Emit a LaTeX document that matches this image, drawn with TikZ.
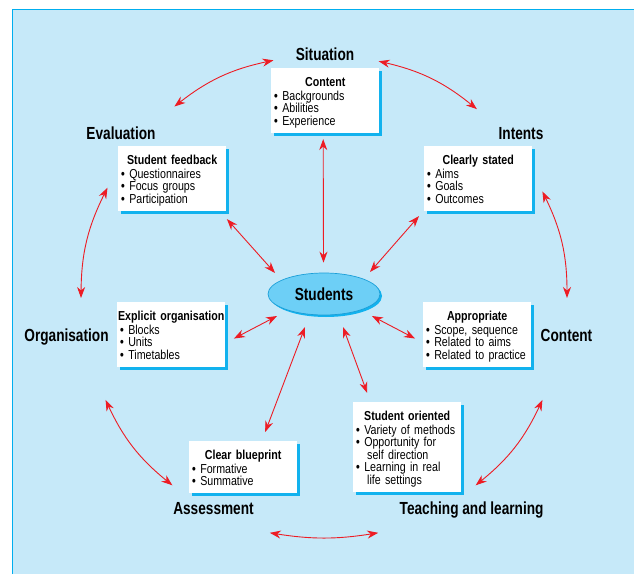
\documentclass[tikz,border=0pt]{standalone}
\usepackage{fontspec}
\setmainfont{Liberation Sans}[FakeStretch=0.82]
\newfontfamily\lblfont{Liberation Sans}[FakeStretch=0.78]
\usetikzlibrary{shapes.geometric,shadows,arrows.meta}
\definecolor{bgblue}{HTML}{C6E9F9}
\definecolor{bordcyan}{HTML}{00AEEF}
\definecolor{shcyan}{HTML}{12B2EE}
\definecolor{arrowred}{HTML}{ED1C24}
\definecolor{ellfill}{HTML}{6DCFF6}
\definecolor{ellrim}{HTML}{1B9FD8}
\newcommand\bodysize{\fontsize{13}{12.5}\selectfont\lineskiplimit=-5pt}
\newcommand\bxtitle[1]{\rule{0pt}{13pt}\makebox[102pt]{\bfseries #1}\\[1.5pt]}
\newcommand\bxend{\rule[-2.7pt]{0pt}{0pt}}
\newcommand\bul{{\bfseries\textbullet}\ }
\tikzset{
  infobox/.style={fill=white, anchor=north west, text width=102pt, inner xsep=3pt,
    inner ysep=5pt, align=left, font=\bodysize,
    drop shadow={fill=shcyan, opacity=1, shadow xshift=3pt, shadow yshift=-3pt}},
  lbl/.style={font=\lblfont\bfseries\fontsize{17.5}{20}\selectfont, anchor=base, inner sep=0pt},
  arr/.style={draw=arrowred, line width=0.9pt,
    arrows={Stealth[length=11pt,width=8pt,inset=3.5pt]-Stealth[length=11pt,width=8pt,inset=3.5pt]}},
}
\begin{document}
\begin{tikzpicture}[x=1pt,y=1pt]
\useasboundingbox (0,0) rectangle (634,574);
% background
\fill[bgblue] (12,0) rectangle (634,564);
\draw[bordcyan, line width=1pt] (12,0) -- (12,564) -- (634,564);

% outer labels
\node[lbl] (lsit) at (325,513.3) {Situation};
\node[lbl] (leval) at (121,434.7) {Evaluation};
\node[lbl] (lint) at (521,434.7) {Intents};
\node[lbl] (lorg) at (66.5,232.3) {Organisation};
\node[lbl] (lcon) at (566.5,232.3) {Content};
\node[lbl] (lass) at (213.5,60) {Assessment};
\node[lbl] (ltl) at (471.6,60) {Teaching and learning};

% centre
\node[ellipse, minimum width=112pt, minimum height=42pt, fill=ellfill, draw=ellrim,
  line width=0.7pt, drop shadow={fill=shcyan, opacity=1, shadow xshift=2pt, shadow yshift=-2pt},
  font=\lblfont\bfseries\fontsize{17.5}{20}\selectfont, inner sep=0pt] (stu) at (324,280) {Students};

% boxes
\node[infobox] (cbox) at (271,506) {\bxtitle{Content}
\bul Backgrounds\\
\bul Abilities\\
\bul Experience\bxend};
\node[infobox] (fbox) at (118,428) {\bxtitle{Student feedback}
\bul Questionnaires\\
\bul Focus groups\\
\bul Participation\bxend};
\node[infobox] (sbox) at (424,428) {\bxtitle{Clearly stated}
\bul Aims\\
\bul Goals\\
\bul Outcomes\bxend};
\node[infobox] (obox) at (117,272) {\bxtitle{Explicit organisation}
\bul Blocks\\
\bul Units\\
\bul Timetables\bxend};
\node[infobox] (abox) at (423,272) {\bxtitle{Appropriate}
\bul Scope, sequence\\
\bul Related to aims\\
\bul Related to practice\bxend};
\node[infobox] (bbox) at (189,133) {\bxtitle{Clear blueprint}
\bul Formative\\
\bul Summative\bxend};
\node[infobox] (tbox) at (353,172) {\bxtitle{Student oriented}
\bul Variety of methods\\
\bul Opportunity for\\
\hspace*{11pt}self direction\\
\bul Learning in real\\
\hspace*{11pt}life settings\bxend};

% radial connectors
\draw[arr] ([xshift=-2pt,yshift=-6pt]cbox.south) -- ([xshift=-0.5pt,yshift=10pt]stu.north);
\draw[arr] ([xshift=0.5pt,yshift=-8pt]fbox.south east) -- ([shift={(-49pt,21pt)}]stu.center);
\draw[arr] ([xshift=-5pt,yshift=-5pt]sbox.south west) -- ([shift={(46pt,22pt)}]stu.center);
\draw[arr] ([xshift=8.5pt,yshift=-4pt]obox.east) -- ([shift={(-47pt,-22pt)}]stu.center);
\draw[arr] ([xshift=-8pt,yshift=-4pt]abox.west) -- ([shift={(48pt,-22pt)}]stu.center);
\draw[arr] ([xshift=22pt,yshift=9pt]bbox.north) -- ([shift={(-19pt,-33pt)}]stu.center);
\draw[arr] ([xshift=-40pt,yshift=9pt]tbox.north) -- ([shift={(19pt,-33pt)}]stu.center);

% outer ring connectors
\coordinate (O) at (324,276);
\coordinate (se1) at ([shift={(102:243pt)}]O);
\coordinate (se2) at ([shift={(128:243pt)}]O);
\coordinate (si1) at ([shift={(77:243pt)}]O);
\coordinate (si2) at ([shift={(51:243pt)}]O);
\coordinate (eo1) at ([shift={(153:243pt)}]O);
\coordinate (eo2) at ([shift={(180:243pt)}]O);
\coordinate (ic1) at ([shift={(26:243pt)}]O);
\coordinate (ic2) at ([shift={(0:243pt)}]O);
\coordinate (oa1) at ([shift={(205:241pt)}]O);
\coordinate (oa2) at ([shift={(231:241pt)}]O);
\coordinate (ct1) at ([shift={(335:241pt)}]O);
\coordinate (ct2) at ([shift={(309:241pt)}]O);
\coordinate (at1) at ([shift={(257:241pt)}]O);
\coordinate (at2) at ([shift={(283:241pt)}]O);
\draw[arr] (se1) to[bend right=13] (se2);
\draw[arr] (si1) to[bend left=13] (si2);
\draw[arr] (eo1) to[bend right=13] (eo2);
\draw[arr] (ic1) to[bend left=13] (ic2);
\draw[arr] (oa1) to[bend right=13] (oa2);
\draw[arr] (ct1) to[bend left=13] (ct2);
\draw[arr] (at1) to[bend right=9] (at2);
\end{tikzpicture}
\end{document}
